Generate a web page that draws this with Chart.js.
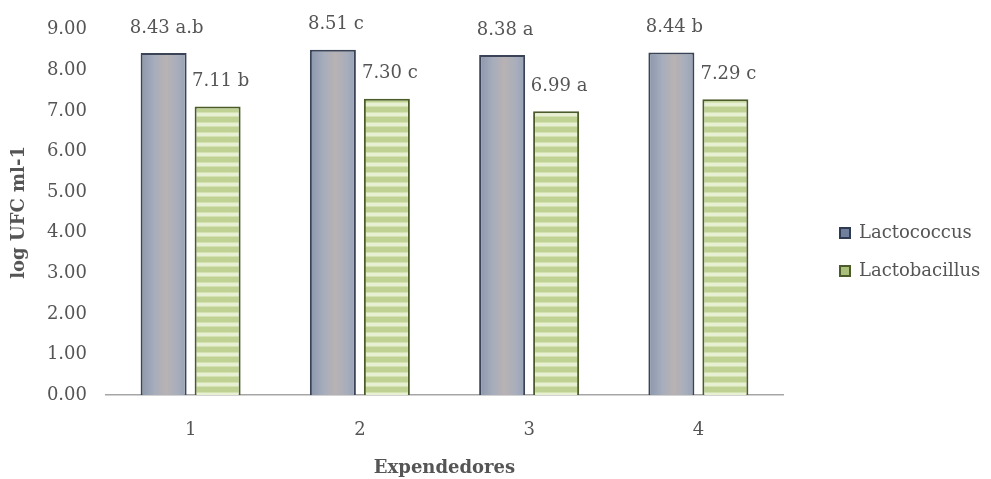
<!DOCTYPE html>
<html>
<head>
<meta charset="utf-8">
<script src="https://cdn.jsdelivr.net/npm/chart.js@4.4.1/dist/chart.umd.min.js"></script>
<style>
  html, body { margin: 0; padding: 0; background: #ffffff; }
  #wrap { width: 991px; height: 479px; position: relative; }
</style>
</head>
<body>
<div id="wrap"><canvas id="c" width="991" height="479"></canvas></div>
<script>
// Vendors (expendedores) and bacterial counts, log UFC/ml
const categories = ['1', '2', '3', '4'];
const lactococcus = [8.43, 8.51, 8.38, 8.44];
const lactobacillus = [7.11, 7.30, 6.99, 7.29];
// Significance letters shown next to each value
const lactococcusLetters = ['a.b', 'c', 'a', 'b'];
const lactobacillusLetters = ['b', 'c', 'a', 'c'];
const yTicks = [0, 1, 2, 3, 4, 5, 6, 7, 8, 9];

const TEXT = '#555555';
const FONT = 'DejaVu Serif';
const FS = 18;
const CAT_PCT = 0.638;
const BAR_PCT = 0.852;

// Horizontal stripe fill for the Lactobacillus bars
function stripePattern() {
  const c = document.createElement('canvas');
  c.width = 10; c.height = 10;
  const g = c.getContext('2d');
  g.fillStyle = '#bfd293';
  g.fillRect(0, 0, 10, 10);
  g.fillStyle = '#e8f0d3';
  g.fillRect(0, 3, 10, 3);
  g.fillStyle = '#d4e2b2';
  g.fillRect(0, 2, 10, 1);
  g.fillRect(0, 6, 10, 1);
  return g.createPattern(c, 'repeat');
}

// Soft left-to-right shading for the Lactococcus bars
function grayFill(ctx) {
  const chart = ctx.chart;
  const x = chart.scales.x;
  if (!x || ctx.dataIndex === undefined || !chart.chartArea) return '#a4abb9';
  const center = x.getPixelForValue(ctx.dataIndex);
  const group = (x.width / categories.length) * CAT_PCT;
  const slot = group / 2;
  const w = slot * BAR_PCT;
  const bx = center - slot / 2;
  const g = chart.ctx.createLinearGradient(bx - w / 2, 0, bx + w / 2, 0);
  g.addColorStop(0, '#8b97ad');
  g.addColorStop(0.3, '#a6adbc');
  g.addColorStop(0.55, '#b8b2b3');
  g.addColorStop(0.8, '#a8aebc');
  g.addColorStop(1, '#97a2b6');
  return g;
}

const valueLabels = {
  id: 'valueLabels',
  afterDatasetsDraw(chart) {
    const ctx = chart.ctx;
    const letters = [lactococcusLetters, lactobacillusLetters];
    ctx.save();
    ctx.font = FS + 'px "' + FONT + '"';
    ctx.fillStyle = TEXT;
    ctx.textAlign = 'center';
    ctx.textBaseline = 'middle';
    chart.data.datasets.forEach((ds, di) => {
      const meta = chart.getDatasetMeta(di);
      meta.data.forEach((bar, i) => {
        const txt = ds.data[i].toFixed(2) + ' ' + letters[di][i];
        ctx.fillText(txt, bar.x + 3, bar.y - 25);
      });
    });
    ctx.restore();
  }
};

// Place the legend to the right of the plot, slightly below centre
const legendPlace = {
  id: 'legendPlace',
  beforeDraw(chart) {
    const lg = chart.legend;
    if (!lg) return;
    lg.left = 820; lg.right = 991;
    lg.top = 64; lg.bottom = 440;
  }
};

const chart = new Chart(document.getElementById('c'), {
  type: 'bar',
  data: {
    labels: categories,
    datasets: [
      {
        label: 'Lactococcus',
        data: lactococcus,
        backgroundColor: grayFill,
        borderColor: '#3a4456',
        borderWidth: 2,
        borderSkipped: 'start',
        categoryPercentage: CAT_PCT,
        barPercentage: BAR_PCT
      },
      {
        label: 'Lactobacillus',
        data: lactobacillus,
        backgroundColor: stripePattern(),
        borderColor: '#4b5b2a',
        borderWidth: 2,
        borderSkipped: 'start',
        categoryPercentage: CAT_PCT,
        barPercentage: BAR_PCT
      }
    ]
  },
  options: {
    responsive: false,
    animation: false,
    events: [],
    layout: { padding: { top: 20, right: 0, bottom: 0, left: 0 } },
    scales: {
      x: {
        grid: { display: false, drawTicks: false },
        border: { display: true, color: '#a6a6a6', width: 1.5 },
        ticks: { color: TEXT, font: { family: FONT, size: FS }, padding: 25 },
        title: {
          display: true, text: 'Expendedores', color: TEXT,
          font: { family: FONT, size: FS, weight: 'bold' },
          padding: { top: 0, bottom: 0 }
        },
        afterFit(s) { s.height = 84; }
      },
      y: {
        min: 0, max: 9,
        afterBuildTicks(s) { s.ticks = yTicks.map(v => ({ value: v })); },
        grid: { display: false, drawTicks: false },
        border: { display: false },
        ticks: {
          color: TEXT, font: { family: FONT, size: FS }, padding: 19,
          callback: v => Number(v).toFixed(2)
        },
        title: {
          display: true, text: 'log UFC ml-1', color: TEXT,
          font: { family: FONT, size: FS, weight: 'bold' },
          padding: { top: 9, bottom: 0 }
        },
        afterFit(s) { s.width = 106; }
      }
    },
    plugins: {
      tooltip: { enabled: false },
      legend: {
        position: 'right',
        labels: {
          color: TEXT,
          font: { family: FONT, size: FS },
          boxWidth: 10, boxHeight: 10, padding: 20,
          generateLabels() {
            return [
              { text: 'Lactococcus', fillStyle: '#6f7f9c', strokeStyle: '#2e3b52', lineWidth: 2, fontColor: TEXT, datasetIndex: 0 },
              { text: 'Lactobacillus', fillStyle: '#a9bf7a', strokeStyle: '#4b5b2a', lineWidth: 2, fontColor: TEXT, datasetIndex: 1 }
            ];
          }
        }
      }
    }
  },
  plugins: [valueLabels, legendPlace]
});

// Fix the legend column width so the plot ends where intended
const baseFit = chart.legend.fit;
chart.legend.fit = function () { baseFit.call(this); this.width = 208; };
chart.update();
</script>
</body>
</html>
